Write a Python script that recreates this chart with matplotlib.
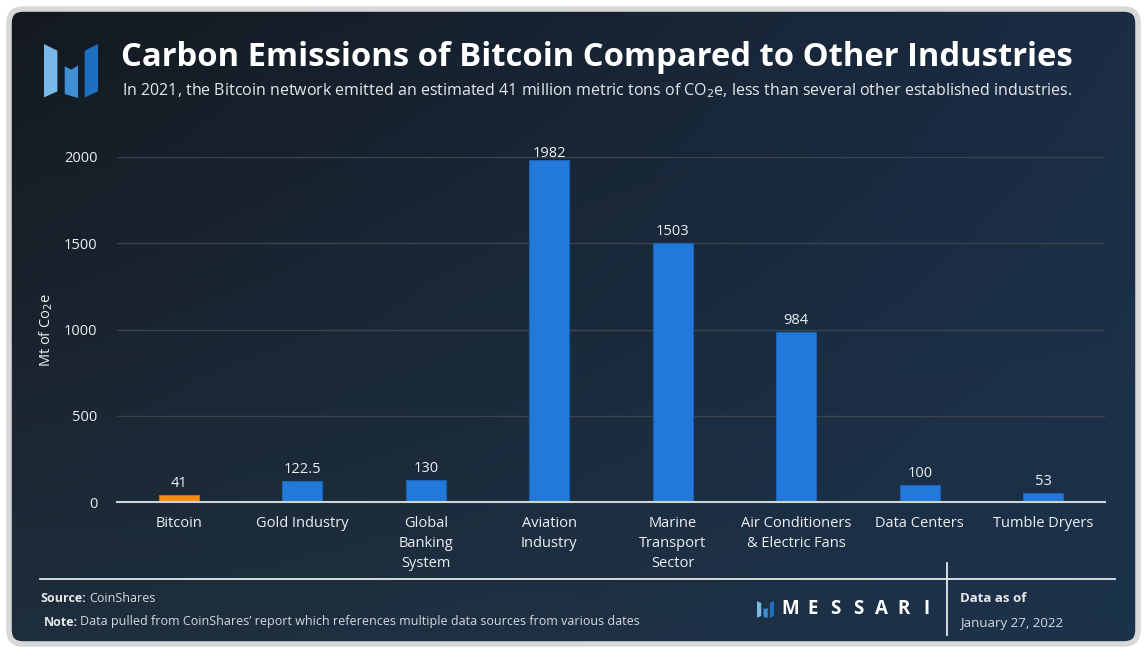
import numpy as np
import matplotlib
matplotlib.use("Agg")
import matplotlib.pyplot as plt
from matplotlib.patches import FancyBboxPatch, Polygon

categories = ["Bitcoin", "Gold Industry", "Global\nBanking\nSystem", "Aviation\nIndustry",
              "Marine\nTransport\nSector", "Air Conditioners\n& Electric Fans", "Data Centers", "Tumble Dryers"]
values = [41, 122.5, 130, 1982, 1503, 984, 100, 53]
value_labels = ["41", "122.5", "130", "1982", "1503", "984", "100", "53"]
yticks = [0, 500, 1000, 1500, 2000]

W, H = 1147, 653
fig = plt.figure(figsize=(W / 100, H / 100), dpi=100)
fig.patch.set_facecolor("white")

FONT = ["Open Sans", "DejaVu Sans"]
plt.rcParams["font.family"] = FONT

# background card
bg = fig.add_axes([0, 0, 1, 1], zorder=0)
bg.set_xlim(0, W)
bg.set_ylim(H, 0)
bg.axis("off")
card = FancyBboxPatch((9, 9), W - 18, H - 18, boxstyle="round,pad=0,rounding_size=14",
                      facecolor="none", edgecolor="#d8d8d8", linewidth=4, zorder=1)
bg.add_patch(card)
xx, yy = np.meshgrid(np.linspace(0, 1, 300), np.linspace(0, 1, 200))
c_tl = np.array([0x14, 0x19, 0x1f]) / 255
c_tr = np.array([0x1a, 0x2d, 0x45]) / 255
c_bl = np.array([0x1f, 0x2e, 0x3c]) / 255
c_br = np.array([0x1c, 0x33, 0x4c]) / 255
img = ((1 - xx)[..., None] * (1 - yy)[..., None] * c_tl + xx[..., None] * (1 - yy)[..., None] * c_tr
       + (1 - xx)[..., None] * yy[..., None] * c_bl + xx[..., None] * yy[..., None] * c_br)
im = bg.imshow(img, extent=(9, W - 9, H - 9, 9), aspect="auto", zorder=0.5)
clip = FancyBboxPatch((9, 9), W - 18, H - 18, boxstyle="round,pad=0,rounding_size=14",
                      transform=bg.transData, facecolor="none", edgecolor="none")
bg.add_patch(clip)
im.set_clip_path(clip)

# logo shape in units relative to a 54px box
LOGO = [
    ([(0, 0), (13.4, 6.7), (13.4, 47.4), (0, 53.4)], "#7ab8e8"),
    ([(20.7, 22.4), (27.4, 25.7), (34, 21.4), (34, 54), (20.7, 50)], "#3f8fd6"),
    ([(40.7, 6.7), (54, 0), (54, 47.4), (40.7, 53.4)], "#1e6fc0"),
]

def logo(ax, x0, y0, size):
    k = size / 54.0
    for pts, c in LOGO:
        p = [(x0 + px * k, y0 + py * k) for px, py in pts]
        ax.add_patch(Polygon(p, closed=True, facecolor=c, edgecolor="none", zorder=3))

logo(bg, 44, 44, 54)
logo(bg, 757, 601, 17)

bg.text(121, 57, "Carbon Emissions of Bitcoin Compared to Other Industries", color="white",
        fontsize=23.6, fontweight="bold", family=["Open Sans", "DejaVu Sans"],
        va="center", ha="left", zorder=3)
bg.text(122, 91, "In 2021, the Bitcoin network emitted an estimated 41 million metric tons of CO$_2$e, less than several other established industries.",
        color="#e6e9ec", fontsize=11.5, va="center", ha="left", zorder=3)

# footer
bg.plot([40, 1115], [579, 579], color="#e8e8e8", lw=1.3, zorder=3)
bg.plot([947, 947], [563, 635], color="#e8e8e8", lw=1.3, zorder=3)
bg.text(40, 599, "Source:", color="#e6e9ec", fontsize=9, fontweight="bold", va="center", zorder=3)
bg.text(89, 599, "CoinShares", color="#d6dade", fontsize=9, va="center", zorder=3)
bg.text(44, 622, "Note:", color="#e6e9ec", fontsize=9, fontweight="bold", va="center", zorder=3)
bg.text(80, 622, "Data pulled from CoinShares\u2019 report which references multiple data sources from various dates",
        color="#d6dade", fontsize=9, va="center", zorder=3)
for i, ch in enumerate("MESSARI"):
    bg.text(790 + i * 22.8, 609, ch, color="white", fontsize=13.5, fontweight="bold",
            family=["Open Sans", "DejaVu Sans"], va="center", ha="center", zorder=3)
bg.text(960, 599, "Data as of", color="#e6e9ec", fontsize=9.5, fontweight="bold", va="center", zorder=3)
bg.text(960, 623, "January 27, 2022", color="#d6dade", fontsize=9.5, va="center", zorder=3)

# main axes
ax = fig.add_axes([117 / W, 1 - 502 / H, (1105 - 117) / W, (502 - 157) / H], zorder=2)
ax.set_facecolor("none")
x = np.arange(len(categories))
colors = ["#f78d12"] + ["#2179d9"] * (len(categories) - 1)
edges = ["#c86f0a"] + ["#1a62b3"] * (len(categories) - 1)
ax.bar(x, values, width=0.325, color=colors, edgecolor=edges, linewidth=0.8, zorder=3)
ax.set_xlim(-0.5, len(categories) - 0.5)
ax.set_ylim(0, 2000)
ytop = ax.get_ylim()[1]
for xi, v, lab in zip(x, values, value_labels):
    ax.text(xi, min(v + 22, ytop - 25), lab, ha="center", va="bottom", color="#eef0f2",
            fontsize=10.5, zorder=4, clip_on=False)
ax.set_yticks(yticks)
ax.set_yticklabels([str(t) for t in yticks], color="#eef0f2", fontsize=10.5)
ax.set_xticks(x)
ax.set_xticklabels(categories, color="#eef0f2", fontsize=10.5, linespacing=1.45, va="top")
ax.tick_params(axis="both", length=0)
ax.tick_params(axis="x", pad=10)
ax.tick_params(axis="y", pad=14)
ax.grid(axis="y", color="#3b434d", lw=1, zorder=0)
ax.set_axisbelow(True)
for s in ["top", "right", "left"]:
    ax.spines[s].set_visible(False)
ax.spines["bottom"].set_color("#d0d3d6")
ax.spines["bottom"].set_linewidth(1.5)
ax.spines["bottom"].set_zorder(4)
ax.set_ylabel("Mt of Co$_2$e", color="#eef0f2", fontsize=10.5)
ax.yaxis.set_label_coords((55 - 117) / (1105 - 117), 0.5)

fig.savefig("out.png", dpi=100, facecolor="white")
